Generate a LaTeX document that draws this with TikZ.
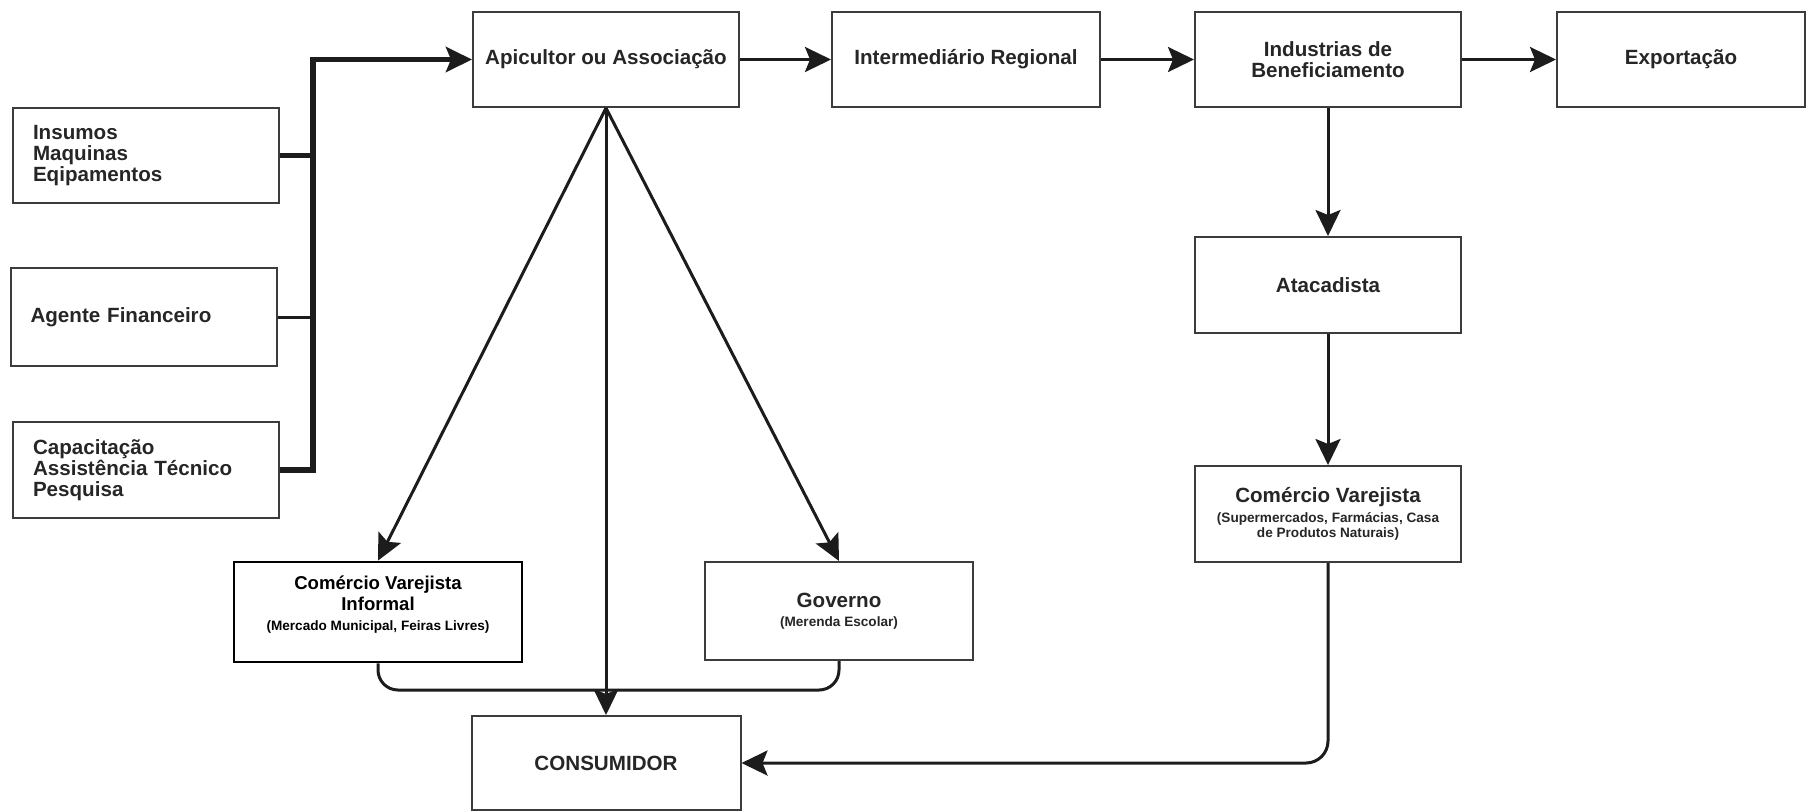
\documentclass[tikz,border=0pt]{standalone}
\usepackage{fontspec}
\setmainfont{Liberation Sans}
\usetikzlibrary{arrows.meta}
\definecolor{ink}{HTML}{262626}
\definecolor{edge}{HTML}{3C3C3C}
\definecolor{wire}{HTML}{1C1C1C}
\newcommand{\notefont}{\fontsize{6.8}{7.6}\selectfont}

\begin{document}
\begin{tikzpicture}[x=0.5pt,y=-0.5pt,
    font=\bfseries\fontsize{10.3}{10.6}\selectfont,
    box/.style={draw=edge, line width=1pt, text=ink, inner sep=0pt, align=center,
      minimum width=133pt, minimum height=47.5pt},
    sidebox/.style={box, align=left, text width=113pt, inner xsep=10pt},
    link/.style={draw=wire, line width=1.5pt},
    flow/.style={link, -{Stealth[length=13pt, width=12.5pt, inset=2.5pt]}},
    bus/.style={draw=wire, line width=2.6pt}]
  \useasboundingbox (0,0) rectangle (1807,810);
  % apoio ao apicultor
  \node[sidebox] (ins) at (146,155.5) {Insumos\\Maquinas\\Eqipamentos};
  \node[sidebox, minimum height=49pt] (agf) at (143.5,317) {Agente Financeiro};
  \node[sidebox, minimum height=48pt] (cap) at (146,470) {Capacitação\\Assistência Técnico\\Pesquisa};
  % cadeia principal
  \node[box] (api) at (606,59.5) {Apicultor ou Associação};
  \node[box, minimum width=134pt] (int) at (966,59.5) {Intermediário Regional};
  \node[box] (ind) at (1328,59.5) {Industrias de\\Beneficiamento};
  \node[box, minimum width=124pt] (exp) at (1681,59.5) {Exportação};
  \node[box, minimum height=48pt] (ata) at (1328,285) {Atacadista};
  \node[box, minimum height=48pt] (cvr) at (1328,514)
    {Comércio Varejista\\[-1pt]\notefont (Supermercados, Farmácias, Casa\\[-3pt]\notefont de Produtos Naturais)};
  % venda direta
  \node[box, draw=black, line width=1.4pt, text=black, minimum width=144pt, minimum height=50pt,
    font=\bfseries\fontsize{9.3}{10.5}\selectfont] (inf) at (378,612)
    {Comércio Varejista\\Informal\\[-0.5pt]\notefont (Mercado Municipal, Feiras Livres)\\[-2pt]\mbox{}};
  \node[box, minimum width=134pt, minimum height=49pt] (gov) at (839,611)
    {Governo\\[-1pt]\notefont (Merenda Escolar)};
  \node[box, minimum width=134.5pt, minimum height=47pt] (con) at (606,763) {CONSUMIDOR};

  \coordinate (bustop) at (313,59.5);
  \coordinate (join) at (606,690);
  \draw[bus, -{Stealth[length=13pt, width=12.5pt, inset=2.5pt]}] (cap.east) -| (bustop) -- (api.west);
  \draw[bus] (ins.east) -- (ins.east -| bustop);
  \draw[link] (agf.east) -- (agf.east -| bustop);
  \draw[flow] (api.east) -- (int.west);
  \draw[flow] (int.east) -- (ind.west);
  \draw[flow] (ind.east) -- (exp.west);
  \draw[flow] (ind.south) -- (ata.north);
  \draw[flow] (ata.south) -- (cvr.north);
  \draw[flow] (api.south) -- (inf.north);
  \draw[flow] (api.south) -- (gov.north);
  \draw[flow] (api.south) -- (con.north);
  \draw[link, rounded corners=10pt] (inf.south) |- (join);
  \draw[link, rounded corners=10pt] (gov.south) |- (join);
  \draw[flow, rounded corners=11pt] (cvr.south) |- (con.east);
\end{tikzpicture}
\end{document}
